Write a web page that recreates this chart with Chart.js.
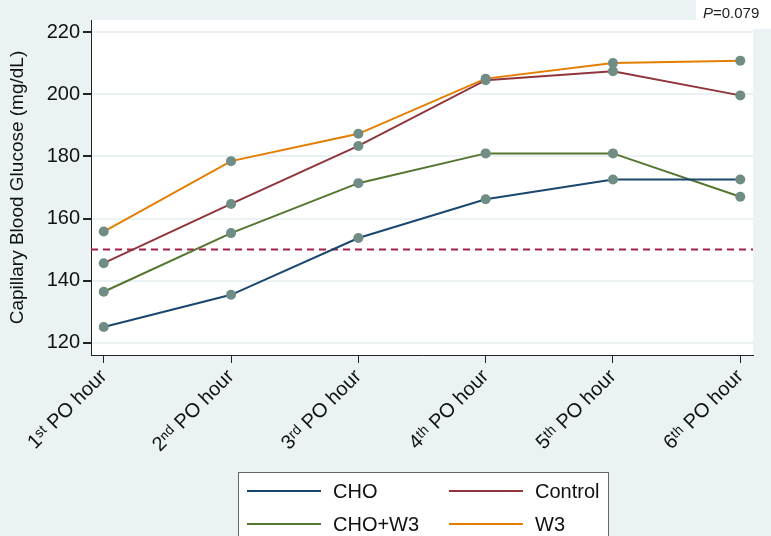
<!DOCTYPE html>
<html>
<head>
<meta charset="utf-8">
<script src="https://cdn.jsdelivr.net/npm/chart.js@4"></script>
<style>
    body { margin: 0; background: #eaf2f3; }
    #wrap { width: 771px; height: 536px; position: relative; }
</style>
</head>
<body>
<div id="wrap"><canvas id="glucoseChart"></canvas></div>
<script>
const hours = ['1ˢᵗ PO hour', '2ⁿᵈ PO hour', '3ʳᵈ PO hour', '4ᵗʰ PO hour', '5ᵗʰ PO hour', '6ᵗʰ PO hour'];
const cho = [125, 135.4, 153.7, 166.2, 172.6, 172.6];
const control = [145.6, 164.7, 183.4, 204.6, 207.5, 199.7];
const choW3 = [136.4, 155.3, 171.4, 181, 181, 167];
const w3 = [155.8, 178.5, 187.3, 205.1, 210.1, 210.9];
const yTicks = [120, 140, 160, 180, 200, 220];
const cutoff = 150;
const pValue = '0.079';

const font = "'Liberation Sans', Arial, sans-serif";

function series(label, values, color) {
    return {
        label: label,
        data: values.map((v, i) => ({ x: i, y: v })),
        borderColor: color,
        backgroundColor: color,
        borderWidth: 2,
        tension: 0,
        pointRadius: 5,
        pointBackgroundColor: '#6f8d85',
        pointBorderColor: '#6f8d85',
        pointBorderWidth: 0
    };
}

const backdrop = {
    id: 'backdrop',
    beforeDraw(chart) {
        const ctx = chart.ctx;
        const a = chart.chartArea;
        ctx.save();
        ctx.fillStyle = '#eaf2f3';
        ctx.fillRect(0, 0, chart.width, chart.height);
        ctx.fillStyle = '#ffffff';
        ctx.fillRect(a.left, a.top, a.right - a.left, a.bottom - a.top);
        ctx.restore();
    }
};

const extras = {
    id: 'extras',
    beforeDatasetsDraw(chart) {
        // dashed reference line
        const ctx = chart.ctx;
        const a = chart.chartArea;
        const y = chart.scales.y.getPixelForValue(cutoff);
        ctx.save();
        ctx.strokeStyle = '#a3204c';
        ctx.lineWidth = 2;
        ctx.setLineDash([7, 5]);
        ctx.beginPath();
        ctx.moveTo(a.left, y);
        ctx.lineTo(a.right, y);
        ctx.stroke();
        ctx.restore();
    },
    afterDraw(chart) {
        const ctx = chart.ctx;
        ctx.save();

        // P value box
        ctx.fillStyle = '#ffffff';
        ctx.fillRect(696, 0, 75, 29);
        ctx.fillStyle = '#222';
        ctx.textBaseline = 'middle';
        ctx.textAlign = 'left';
        ctx.font = 'italic 15px ' + font;
        ctx.fillText('P', 703, 14);
        const pw = ctx.measureText('P').width;
        ctx.font = '15px ' + font;
        ctx.fillText('=' + pValue, 703 + pw, 14);

        // legend
        ctx.fillStyle = '#ffffff';
        ctx.fillRect(238, 472, 370, 70);
        ctx.strokeStyle = '#666';
        ctx.lineWidth = 1;
        ctx.strokeRect(238.5, 472.5, 370, 70);
        const slots = [[247, 491], [449, 491], [247, 524], [449, 524]];
        ctx.font = '20px ' + font;
        chart.data.datasets.forEach((ds, k) => {
            const [lx, ly] = slots[k];
            ctx.strokeStyle = ds.borderColor;
            ctx.lineWidth = 2;
            ctx.beginPath();
            ctx.moveTo(lx, ly);
            ctx.lineTo(lx + 74, ly);
            ctx.stroke();
            ctx.fillStyle = '#111';
            ctx.fillText(ds.label, lx + 86, ly + 1);
        });
        ctx.restore();
    }
};

const ctx = document.getElementById('glucoseChart').getContext('2d');
new Chart(ctx, {
    type: 'line',
    data: {
        datasets: [
            series('CHO', cho, '#1a476f'),
            series('Control', control, '#90353b'),
            series('CHO+W3', choW3, '#55752f'),
            series('W3', w3, '#e37e00')
        ]
    },
    options: {
        responsive: true,
        maintainAspectRatio: false,
        animation: false,
        layout: { padding: { top: 20, right: 18, bottom: 81, left: 0 } },
        plugins: {
            legend: { display: false },
            tooltip: { enabled: false }
        },
        scales: {
            x: {
                type: 'linear',
                min: -0.1,
                max: 5.1,
                afterFit(scale) { scale.height = 100; },
                border: { color: '#222', width: 1 },
                grid: { drawOnChartArea: false, tickLength: 8, tickColor: '#222' },
                ticks: {
                    stepSize: 1,
                    includeBounds: false,
                    autoSkip: false,
                    minRotation: 45,
                    maxRotation: 45,
                    padding: 2,
                    color: '#111',
                    font: { family: font, size: 20 },
                    callback: (v) => Number.isInteger(v) ? hours[v] : ''
                }
            },
            y: {
                min: 116,
                max: 224,
                afterFit(scale) { scale.width = 91; },
                afterBuildTicks(scale) { scale.ticks = yTicks.map(v => ({ value: v })); },
                border: { color: '#222', width: 1 },
                grid: { color: '#eaf2f3', lineWidth: 2, tickLength: 8, tickColor: '#222' },
                ticks: {
                    padding: 3,
                    color: '#111',
                    font: { family: font, size: 20 }
                },
                title: {
                    display: true,
                    text: 'Capillary Blood Glucose (mg/dL)',
                    color: '#111',
                    font: { family: font, size: 19 },
                    padding: { top: 6, bottom: 4 }
                }
            }
        }
    },
    plugins: [backdrop, extras]
});
</script>
</body>
</html>
